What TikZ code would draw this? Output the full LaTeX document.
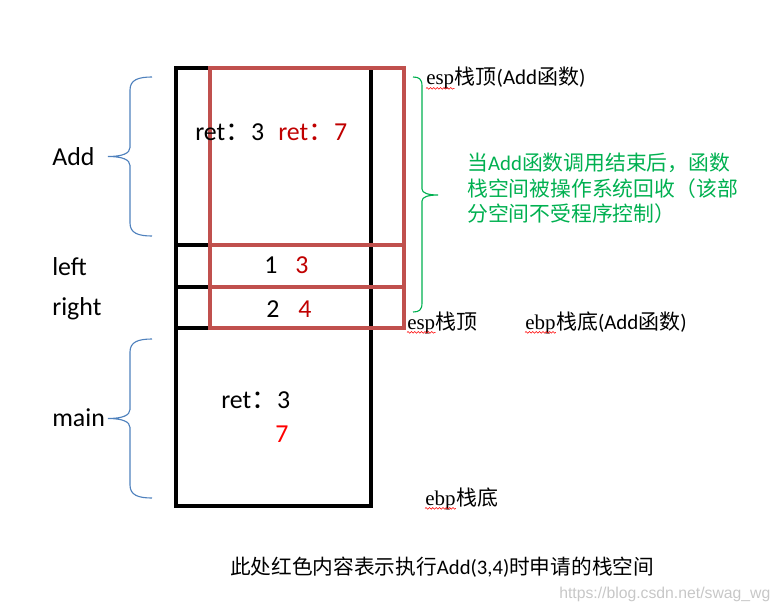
\documentclass[tikz,border=0pt]{standalone}
\usepackage{fontspec}
\setmainfont{Carlito}
\newfontfamily\cjk{Noto Sans CJK SC}
\newfontfamily\tnr{Liberation Serif}
\newfontfamily\wmfont{Liberation Sans}
\usetikzlibrary{positioning,decorations.pathmorphing}
\definecolor{framered}{RGB}{192,80,77}
\definecolor{valred}{RGB}{192,0,0}
\definecolor{hotred}{RGB}{255,0,0}
\definecolor{notegreen}{RGB}{0,176,80}
\definecolor{braceblue}{RGB}{79,129,189}

\begin{document}
\begin{tikzpicture}[x=0.025cm,y=-0.025cm,
  stackline/.style={line width=2.4pt},
  addframe/.style={framered,line width=2.2pt},
  big/.style={inner sep=0pt,anchor=base west,font=\fontsize{18.4}{22}\selectfont},
  reg/.style={inner sep=0pt,anchor=base west,font=\fontsize{14.9}{18}\selectfont},
  note/.style={inner sep=0pt,anchor=base west,text=notegreen,font=\cjk\fontsize{14.8}{18}\selectfont},
  squig/.style={red,line width=0.4pt,decorate,decoration={snake,segment length=2.4pt,amplitude=0.6pt}},
  bluebrace/.style={braceblue,line width=0.8pt},
  greenbrace/.style={notegreen,line width=0.8pt}]
  \useasboundingbox (0,0) rectangle (780,611);

  % stack of main
  \draw[stackline] (176,68) rectangle (371,506);
  \foreach \y in {245,287,328}
    \draw[stackline] (176,\y) -- (371,\y);
  % frame of Add
  \draw[addframe] (210,68) rectangle (404,328);
  \foreach \y in {245,287}
    \draw[addframe] (210,\y) -- (404,\y);

  % values
  \node[big] (retAdd) at (195,140) {ret{\cjk ：}3};
  \node[big,text=valred] (retAddNew) at (278,140) {ret{\cjk ：}7};
  \node[big] (argLeft) at (264,273) {1};
  \node[big,text=valred] (argLeftNew) at (295,273) {3};
  \node[big] (argRight) at (266,317) {2};
  \node[big,text=valred] (argRightNew) at (298,317) {4};
  \node[big] (retMain) at (221,408) {ret{\cjk ：}3};
  \node[big,text=hotred] (retMainNew) at (275,442) {7};

  % frame names
  \node[big] (lblAdd) at (52,165) {Add};
  \node[big] (lblLeft) at (52,275) {left};
  \node[big] (lblRight) at (52,315) {right};
  \node[big] (lblMain) at (52,426) {main};

  % braces
  \foreach \t/\b in {77/236,339/498}
    \draw[bluebrace] (152,\t) .. controls (138,\t) and (130,{\t+3}) .. (130,{\t+13})
      -- (130,{(\t+\b)/2-9}) .. controls (130,{(\t+\b)/2-3}) and (122,{(\t+\b)/2}) .. (108,{(\t+\b)/2})
      .. controls (122,{(\t+\b)/2}) and (130,{(\t+\b)/2+3}) .. (130,{(\t+\b)/2+9})
      -- (130,{\b-13}) .. controls (130,{\b-3}) and (138,\b) .. (152,\b);
  \draw[greenbrace] (413,77) .. controls (419,77) and (422,79) .. (422,86) -- (422,189)
    .. controls (422,193) and (428,195) .. (438,195) .. controls (428,195) and (422,197) .. (422,201)
    -- (422,303) .. controls (422,310) and (419,312) .. (413,312);

  % esp / ebp
  \node[reg] (espAdd) at (426,85) {\tnr esp};
  \node[reg,base right=0pt of espAdd] (espAddTxt) {{\cjk 栈顶}(Add{\cjk 函数})};
  \node[reg] (espTop) at (407,329) {\tnr esp};
  \node[reg,base right=0pt of espTop] (espTopTxt) {\cjk 栈顶};
  \node[reg] (ebpAdd) at (525,329) {\tnr ebp};
  \node[reg,base right=0pt of ebpAdd] (ebpAddTxt) {{\cjk 栈底}(Add{\cjk 函数})};
  \node[reg] (ebpMain) at (425,505) {\tnr ebp};
  \node[reg,base right=0pt of ebpMain] (ebpMainTxt) {\cjk 栈底};
  \foreach \w in {espAdd,espTop,ebpAdd,ebpMain}
    \draw[squig] ([yshift=-2.4pt]\w.base west) -- ([yshift=-2.4pt]\w.base east);

  % note
  \node[note] (note1) at (467,170) {当{\rmfamily Add}函数调用结束后，函数};
  \node[note] (note2) at (467,196) {栈空间被操作系统回收（该部};
  \node[note] (note3) at (467,221) {分空间不受程序控制）};

  % caption
  \node[inner sep=0pt,anchor=base west,font=\fontsize{14.7}{17}\selectfont] (caption) at (230,574)
    {{\cjk 此处红色内容表示执行}Add(3,4){\cjk 时申请的栈空间}};
  \node[inner sep=0pt,anchor=base west,text=black!22,font=\wmfont\fontsize{11.2}{13}\selectfont] (mark) at (559,598)
    {https://blog.csdn.net/swag\_wg};
\end{tikzpicture}
\end{document}
